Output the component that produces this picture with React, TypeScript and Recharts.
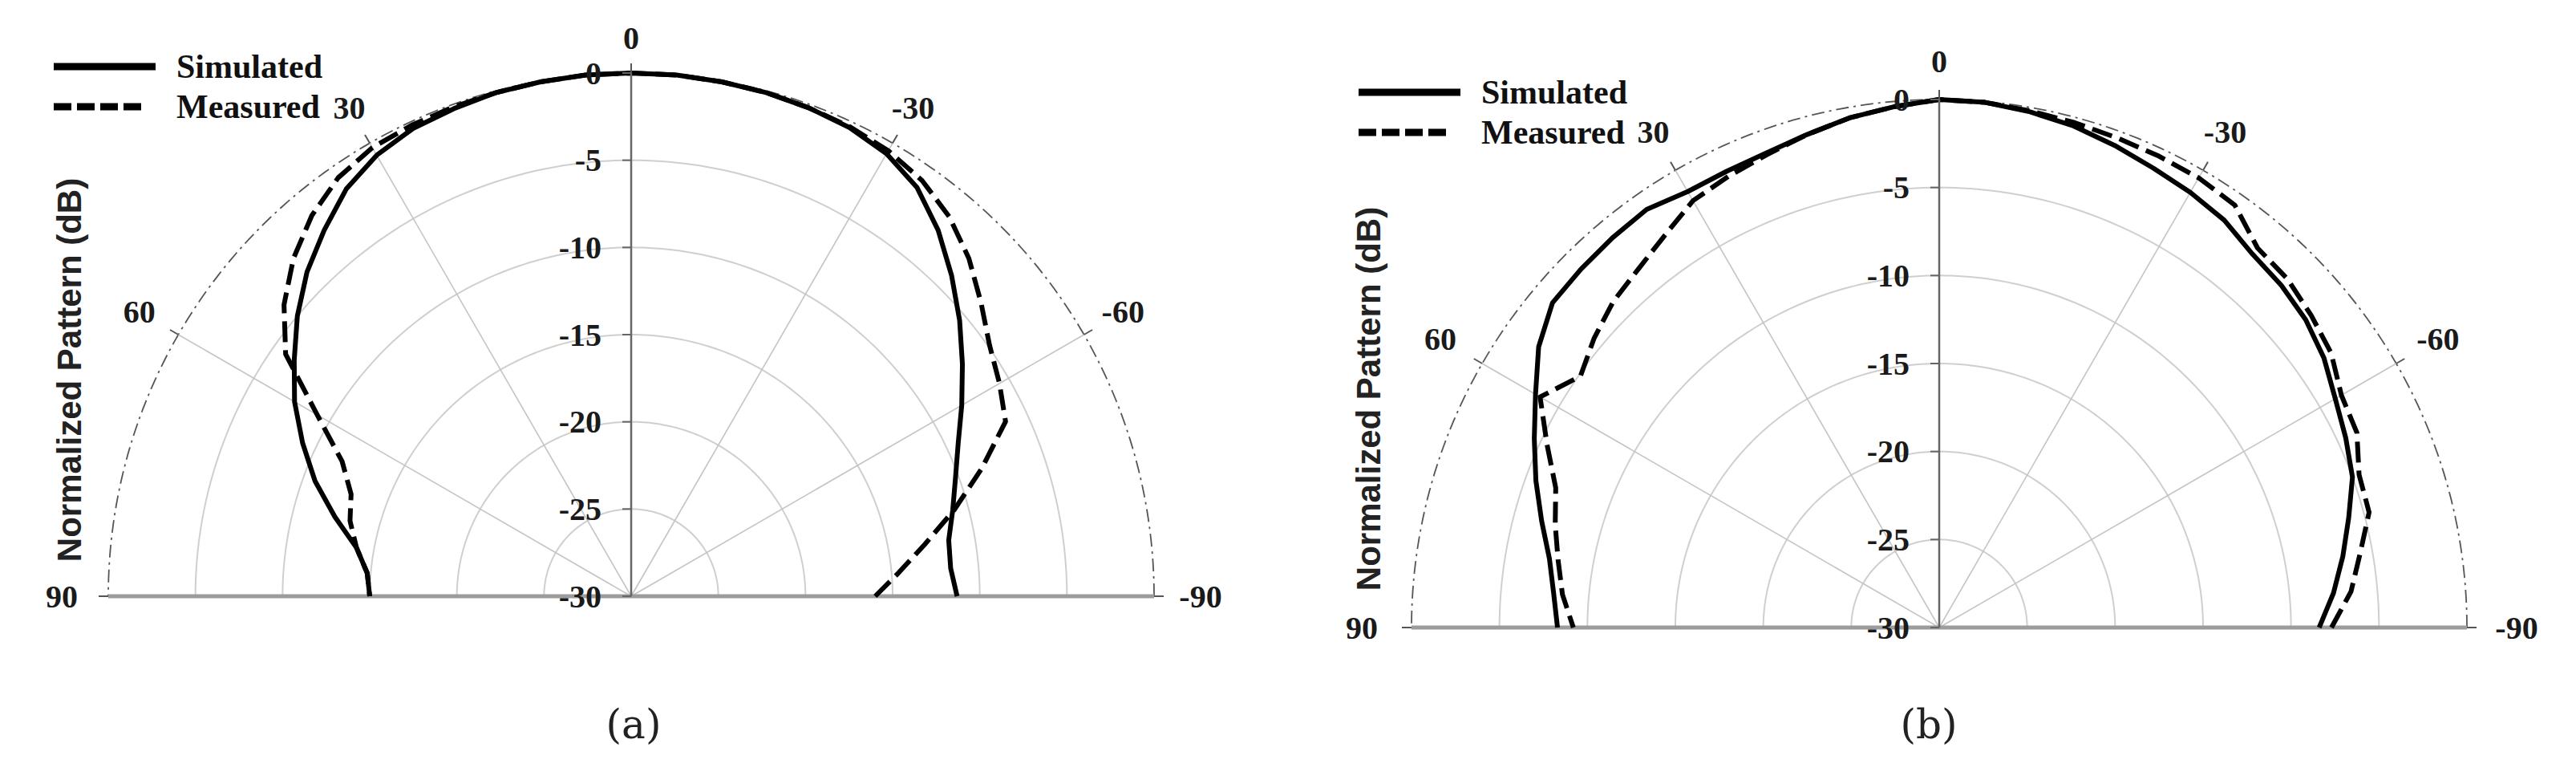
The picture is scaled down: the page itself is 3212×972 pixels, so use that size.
import React from 'react';
import {
  RadarChart,
  Radar,
  PolarGrid,
  PolarAngleAxis,
  PolarRadiusAxis,
  Legend,
} from 'recharts';

// angle in degrees, 0 = broadside, positive to the left
const angles = [-90, -85, -80, -75, -70, -65, -60, -55, -50, -45, -40, -35, -30, -25, -20, -15, -10, -5, 0, 5, 10, 15, 20, 25, 30, 35, 40, 45, 50, 55, 60, 65, 70, 75, 80, 85, 90];

// (a) normalized pattern, dB
const simulatedA = [-11.3, -11.6, -11.5, -10.9, -10.2, -9.3, -8.1, -6.8, -5.4, -4.0, -2.6, -1.4, -0.7, -0.35, -0.2, -0.1, -0.05, 0, 0, 0, -0.05, -0.1, -0.25, -0.4, -0.8, -1.5, -2.6, -3.7, -5.0, -6.4, -7.7, -9.2, -10.7, -12.4, -14.0, -14.8, -15.0];
const measuredA = [-16.0, -14.6, -12.9, -10.8, -8.6, -6.3, -5.6, -4.9, -3.8, -2.6, -1.6, -0.9, -0.5, -0.3, -0.2, -0.1, -0.05, 0, 0, 0, -0.05, -0.1, -0.15, -0.2, -0.3, -0.7, -1.5, -2.6, -4.0, -5.8, -9.2, -11.7, -12.9, -13.3, -14.0, -14.8, -15.0];

// (b) normalized pattern, dB
const simulatedB = [-8.4, -7.5, -6.7, -5.9, -5.0, -4.5, -4.0, -3.3, -2.8, -2.5, -2.3, -1.75, -1.45, -1.2, -0.85, -0.5, -0.25, -0.05, 0, -0.3, -0.6, -1.0, -1.3, -1.4, -1.4, -1.0, -1.1, -1.2, -1.3, -2.2, -3.5, -4.6, -5.6, -6.6, -7.5, -8.0, -8.3];
const measuredB = [-7.7, -6.5, -5.7, -4.7, -4.6, -3.8, -3.6, -2.8, -2.4, -2.0, -1.85, -0.7, -0.5, -0.45, -0.4, -0.3, -0.2, -0.05, 0, -0.3, -0.6, -1.0, -1.4, -1.7, -2.0, -2.8, -3.4, -3.8, -4.4, -5.1, -3.8, -5.4, -6.8, -7.4, -8.0, -8.5, -9.2];

const angleTicks = [-90, -60, -30, 0, 30, 60, 90];
const ringTicks = [-30, -25, -20, -15, -10, -5, 0];
const seriesNames = ['Simulated', 'Measured'];
const panelCaptions = ['(a)', '(b)'];
const yTitle = 'Normalized Pattern (dB)';

const SERIF = '"Liberation Serif", "Times New Roman", serif';
const SANS = '"Liberation Sans", Arial, sans-serif';
const MEASURED_DASH = '26 10';

// sample angles for drawing the half-circle rings
const ringSampleAngles = Array.from({ length: 181 }, (_, i) => i);

interface PanelLayout {
  left: number;
  width: number;
  cx: number;
  cy: number;
  r: number;
  labelGap: number;
  legendLeft: number;
  legendTop: number;
  titleX: number;
  titleY: number;
  captionX: number;
}

const layouts: PanelLayout[] = [
  { left: 0, width: 1600, cx: 787, cy: 743, r: 652, labelGap: 44, legendLeft: 67, legendTop: 58, titleX: 87, titleY: 461, captionX: 790 },
  { left: 1600, width: 1612, cx: 818, cy: 782, r: 658, labelGap: 48, legendLeft: 94, legendTop: 90, titleX: 107, titleY: 497, captionX: 805 },
];

const buildRows = (sim: number[], meas: number[]) =>
  angles.map((angle, i) => ({ angle, simulated: sim[i], measured: meas[i] }));

const panels = [buildRows(simulatedA, measuredA), buildRows(simulatedB, measuredB)];

const openPath = (dash?: string) => (props: any) => {
  const pts = (props.points || []).filter((p: any) => Number.isFinite(p.x) && Number.isFinite(p.y));
  const d = pts.map((p: any, i: number) => `${i === 0 ? 'M' : 'L'}${p.x},${p.y}`).join('');
  return (
    <path
      d={d}
      fill="none"
      stroke="#000"
      strokeWidth={6}
      strokeDasharray={dash}
      strokeLinejoin="round"
    />
  );
};

function renderLegend(props: any) {
  const payload = [...(props.payload || [])].sort(
    (a: any, b: any) => seriesNames.indexOf(a.value) - seriesNames.indexOf(b.value),
  );
  return (
    <div style={{ fontFamily: SERIF, fontWeight: 700, fontSize: 42, color: '#111' }}>
      {payload.map((entry: any, i: number) => {
        const dashed = entry.dataKey === 'measured';
        return (
          <div key={`leg-${i}`} style={{ display: 'flex', alignItems: 'center', height: 50, whiteSpace: 'nowrap' }}>
            <svg width={128} height={14} style={{ marginRight: 25 }}>
              <line
                x1={0}
                x2={dashed ? 109 : 127}
                y1={7}
                y2={7}
                stroke="#000"
                strokeWidth={9}
                strokeDasharray={dashed ? '22 7' : undefined}
              />
            </svg>
            <span>{entry.value}</span>
          </div>
        );
      })}
    </div>
  );
}

function Panel({ data, layout, caption }: { data: any[]; layout: PanelLayout; caption: string }) {
  const { cx, cy, r, labelGap } = layout;

  const angleTick = (p: any) => {
    const a = p.payload?.coordinate ?? p.payload.value + 90;
    const rad = (a * Math.PI) / 180;
    const d = r + labelGap + 14 * Math.abs(Math.cos(rad));
    const x = cx + d * Math.cos(rad);
    const y = cy - d * Math.sin(rad);
    return (
      <text
        x={x}
        y={y}
        textAnchor="middle"
        dominantBaseline="central"
        fontFamily={SERIF}
        fontWeight={700}
        fontSize={40}
        fill="#1a1a1a"
      >
        {p.payload.value}
      </text>
    );
  };

  const ringTick = (p: any) => (
    <g>
      <line x1={p.x - 11} x2={p.x} y1={p.y} y2={p.y} stroke="#666" strokeWidth={2} />
      <text
        x={p.x - 37}
        y={p.y}
        textAnchor="end"
        dominantBaseline="central"
        fontFamily={SERIF}
        fontWeight={700}
        fontSize={40}
        fill="#1a1a1a"
      >
        {p.payload.value}
      </text>
    </g>
  );

  const ringRadii = ringTicks.slice(1, -1).map((v) => ((v + 30) / 30) * r);

  return (
    <div style={{ position: 'absolute', left: layout.left, top: 0, width: layout.width, height: 972 }}>
      <RadarChart
        width={layout.width}
        height={972}
        data={data}
        cx={cx}
        cy={cy}
        innerRadius={0}
        outerRadius={r}
        startAngle={0}
        endAngle={180}
        margin={{ top: 0, right: 0, bottom: 0, left: 0 }}
      >
        <PolarGrid
          gridType="polygon"
          polarAngles={ringSampleAngles}
          polarRadius={ringRadii}
          radialLines={false}
          stroke="#cfcfcf"
          strokeWidth={2}
        />
        <PolarGrid
          gridType="polygon"
          polarAngles={ringSampleAngles}
          polarRadius={[r]}
          radialLines={false}
          stroke="#555"
          strokeWidth={1.8}
          strokeDasharray="16 6 3 6"
        />
        <PolarGrid
          polarAngles={[30, 60, 120, 150]}
          polarRadius={[]}
          stroke="#c4c4c4"
          strokeWidth={1.6}
        />
        <PolarGrid
          polarAngles={[0, 180]}
          polarRadius={[]}
          stroke="#9c9c9c"
          strokeWidth={5}
        />
        <PolarAngleAxis
          dataKey="angle"
          type="number"
          domain={[-90, 90]}
          ticks={angleTicks}
          tickCount={angleTicks.length}
          allowDataOverflow
          axisLine={false}
          tickLine={{ stroke: '#555', strokeWidth: 2 }}
          tickSize={12}
          tick={angleTick}
        />
        <PolarRadiusAxis
          angle={90}
          type="number"
          domain={[-30, 0]}
          ticks={ringTicks}
          tickCount={ringTicks.length}
          allowDataOverflow
          orientation="left"
          axisLine={{ stroke: '#666', strokeWidth: 2.5 }}
          tick={ringTick}
        />
        <Radar
          name={seriesNames[0]}
          dataKey="simulated"
          stroke="#000"
          fill="none"
          isAnimationActive={false}
          shape={openPath()}
        />
        <Radar
          name={seriesNames[1]}
          dataKey="measured"
          stroke="#000"
          fill="none"
          isAnimationActive={false}
          shape={openPath(MEASURED_DASH)}
        />
        <Legend
          layout="horizontal"
          verticalAlign="middle"
          align="center"
          content={renderLegend}
          wrapperStyle={{ left: layout.legendLeft, top: layout.legendTop, width: 'auto', height: 'auto' }}
        />
      </RadarChart>
      <div
        style={{
          position: 'absolute',
          left: layout.titleX - 300,
          top: layout.titleY - 25,
          width: 600,
          height: 50,
          lineHeight: '50px',
          textAlign: 'center',
          transform: 'rotate(-90deg)',
          fontFamily: SANS,
          fontWeight: 700,
          fontSize: 42,
          color: '#222',
          whiteSpace: 'nowrap',
        }}
      >
        {yTitle}
      </div>
      <div
        style={{
          position: 'absolute',
          left: layout.captionX - 100,
          top: 903 - 35,
          width: 200,
          height: 70,
          lineHeight: '70px',
          textAlign: 'center',
          fontFamily: '"DejaVu Serif", serif',
          fontSize: 50,
          color: '#222',
        }}
      >
        {caption}
      </div>
    </div>
  );
}

export default function App() {
  return (
    <div
      style={{
        position: 'absolute',
        left: 0,
        top: 0,
        width: 3212,
        height: 972,
        background: '#fff',
        overflow: 'hidden',
      }}
    >
      {panels.map((data, i) => (
        <Panel key={`panel-${i}`} data={data} layout={layouts[i]} caption={panelCaptions[i]} />
      ))}
    </div>
  );
}
